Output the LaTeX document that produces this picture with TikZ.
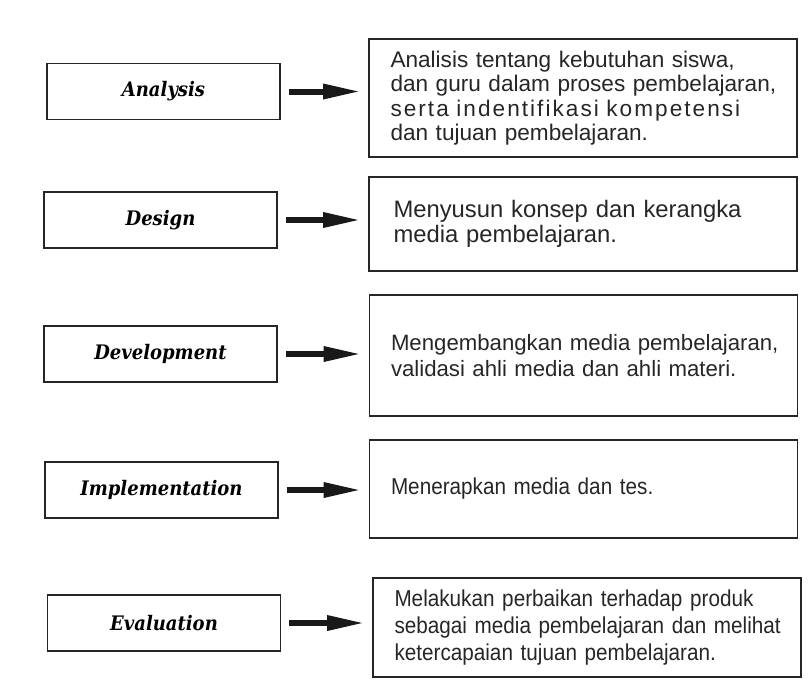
\documentclass[tikz,border=0pt]{standalone}
\usepackage{fontspec}
\setmainfont{Liberation Sans}
\newfontfamily\judulfont[FakeStretch=0.9]{DejaVu Serif}
\newfontfamily\sempit[FakeStretch=0.9]{Liberation Sans}
\usetikzlibrary{arrows.meta}
\tikzset{
  tahap/.style={draw=black!85,line width=1.6pt,minimum width=233pt,minimum height=56pt,
    inner sep=0pt,font=\judulfont\bfseries\itshape\fontsize{20}{22}\selectfont},
  ket/.style={draw=black!85,line width=1.6pt,minimum width=428pt,text width=385pt,
    align=left,inner sep=0pt,text=black!85,font=\fontsize{22.6}{26.5}\selectfont,
    execute at begin node={\baselineskip=#1pt}},
  ket/.default=26.5,
  ketsempit/.style={ket=#1,font=\sempit\fontsize{23}{26.5}\selectfont},
  ketsempit/.default=26.5,
  panah/.style={line width=6pt,black!90,-{Triangle[length=38pt,width=14pt]},
    shorten <=8pt,shorten >=7pt},
}
\newcommand{\baris}[1]{\makebox[385pt][s]{#1}}

\begin{document}
\begin{tikzpicture}[x=1pt,y=-1pt]
  \useasboundingbox (0,0) rectangle (811,694);
  \node[tahap] (a1) at (163.5,91.5) {Analysis};
  \node[tahap] (a2) at (160.5,220) {Design};
  \node[tahap] (a3) at (160.5,354) {Development};
  \node[tahap] (a4) at (161.5,490) {Implementation};
  \node[tahap] (a5) at (164,623) {Evaluation};
  \node[ket=24.5,minimum height=118pt] (b1) at (583,98)
    {\baris{Analisis tentang kebutuhan siswa,}\\
     \baris{dan guru dalam proses pembelajaran,}\\
     \baris{\addfontfeature{LetterSpace=9}serta indentifikasi kompetensi}\\
     dan tujuan pembelajaran.};
  \node[ket=25,minimum height=94pt,text width=379pt,font=\fontsize{23.8}{25}\selectfont]
    (b2) at (583,224) {Menyusun konsep dan kerangka\\ media pembelajaran.};
  \node[ket=26,minimum height=121pt,font=\fontsize{22.2}{26}\selectfont] (b3) at (583.5,355.5)
    {\mbox{Mengembangkan media pembelajaran,}\\ \mbox{validasi ahli media dan ahli materi.}};
  \node[ketsempit,minimum height=98pt] (b4) at (583.5,489) {Menerapkan media dan tes.};
  \node[ketsempit=27,minimum height=99pt] (b5) at (587,627.5)
    {\baris{Melakukan perbaikan terhadap produk}\\
     \baris{sebagai media pembelajaran dan melihat}\\
     ketercapaian tujuan pembelajaran.};
  \foreach \i in {1,...,5} \draw[panah] (a\i.east) -- (a\i.east -| b\i.west);
\end{tikzpicture}
\end{document}
